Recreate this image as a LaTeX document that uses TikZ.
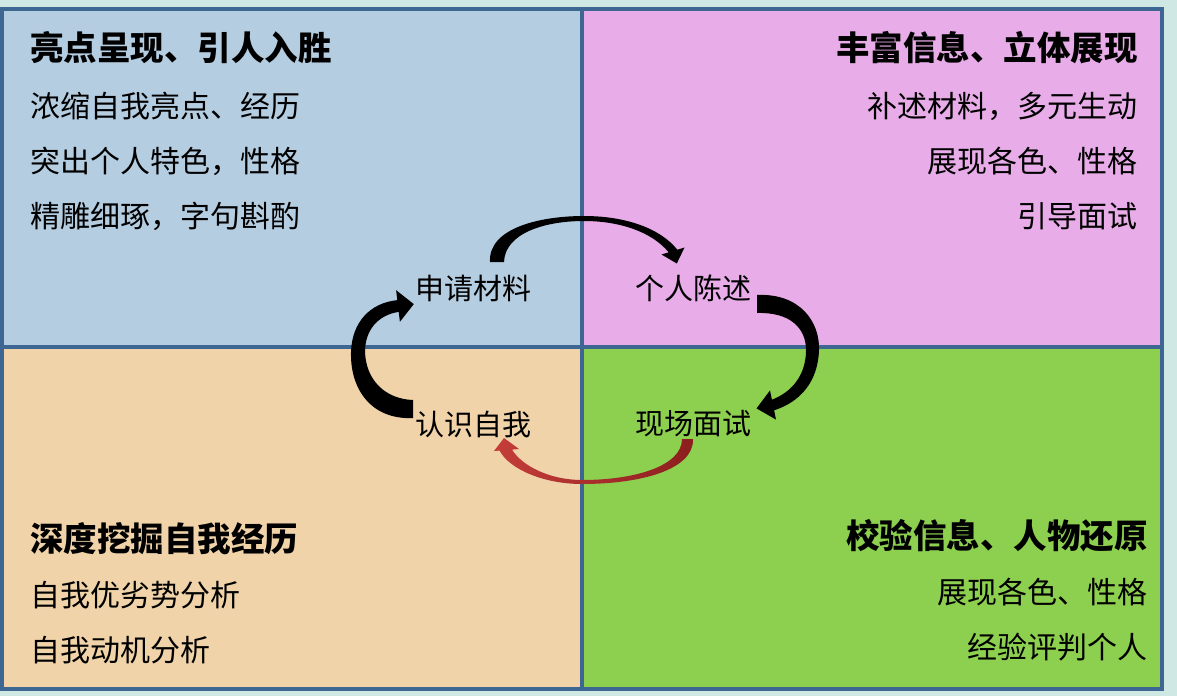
\documentclass[tikz,border=0pt]{standalone}
\usepackage{fontspec}
\setmainfont{Noto Sans CJK SC}
\usepackage{tikz}
\usetikzlibrary{calc,positioning}
\definecolor{backcol}{RGB}{208,232,228}
\definecolor{edgecol}{RGB}{62,102,147}
\definecolor{qblue}{RGB}{181,205,225}
\definecolor{qpink}{RGB}{232,172,232}
\definecolor{qtan}{RGB}{240,211,168}
\definecolor{qgreen}{RGB}{141,207,79}
\definecolor{redlight}{RGB}{196,62,58}
\definecolor{reddark}{RGB}{140,30,30}
\tikzset{
  quad/.style={draw=edgecol, line width=3.5pt},
  headtxt/.style={inner sep=0pt, font=\fontsize{33.5}{36}\selectfont\bfseries},
  itemtxt/.style={inner sep=0pt, font=\fontsize{30}{33}\selectfont},
  steptxt/.style={inner sep=0pt, font=\fontsize{29}{33}\selectfont},
}

\begin{document}
\begin{tikzpicture}[x=1pt,y=-1pt]
\fill[backcol] (0,0) rectangle (1177,696);
\useasboundingbox (0,0) rectangle (1177,696);

% quadrants
\filldraw[quad, fill=qblue] (2,9) rectangle (582,347);
\filldraw[quad, fill=qpink] (582,9) rectangle (1162,347);
\filldraw[quad, fill=qtan] (2,347) rectangle (582,689);
\filldraw[quad, fill=qgreen] (582,347) rectangle (1162,689);

% top left
\node[headtxt, anchor=west](tlhead) at (30,48){亮点呈现、引人入胜};
\node[itemtxt, anchor=west](tla) at (30,106){浓缩自我亮点、经历};
\node[itemtxt, anchor=west](tlb) at (30,161){突出个人特色，性格};
\node[itemtxt, anchor=west](tlc) at (30,216){精雕细琢，字句斟酌};

% top right
\node[headtxt, anchor=east](trhead) at (1138,48){丰富信息、立体展现};
\node[itemtxt, anchor=east](tra) at (1138,106){补述材料，多元生动};
\node[itemtxt, anchor=east](trb) at (1138,161){展现各色、性格};
\node[itemtxt, anchor=east](trc) at (1138,216){引导面试};

% bottom left
\node[headtxt, anchor=west](blhead) at (30,539){深度挖掘自我经历};
\node[itemtxt, anchor=west](bla) at (30,595){自我优劣势分析};
\node[itemtxt, anchor=west](blb) at (30,650){自我动机分析};

% bottom right
\node[headtxt, anchor=east](brhead) at (1148,536){校验信息、人物还原};
\node[itemtxt, anchor=east](bra) at (1148,592){展现各色、性格};
\node[itemtxt, anchor=east](brb) at (1148,647){经验评判个人};

% cycle
\node[steptxt](apply) at (473,288){申请材料};
\node[steptxt](stmt) at (693,288){个人陈述};
\node[steptxt](self) at (473,424){认识自我};
\node[steptxt](intv) at (693,424){现场面试};

% apply -> stmt
\fill[black] (490,262) .. controls (488,228) and (540,216) .. (584,216)
  .. controls (625,216) and (660,228) .. (677.3,249.7) -- (684.5,247.5) -- (676.8,263.5)
  -- (661.5,254.5) -- (668.7,252.3) .. controls (652,232) and (620,221) .. (584,221)
  .. controls (545,221) and (505,233) .. (504,262) -- cycle;
% stmt -> intv
\fill[black] (757,295) .. controls (800,293) and (820,322) .. (819,350)
  .. controls (818,382) and (800,402) .. (774.1,410.3) -- (776,419.6) -- (756.5,408.4)
  -- (770,390.4) -- (771.9,399.7) .. controls (792,392) and (806,375) .. (806,350)
  .. controls (806,328) and (790,312) .. (757,313) -- cycle;
% self -> apply
\fill[black] (413,418) .. controls (372,420) and (350,390) .. (351,352)
  .. controls (352,322) and (370,303) .. (397.3,300.1) -- (396.1,290.2) -- (413.8,304.1)
  -- (399.9,321.8) -- (398.7,311.9) .. controls (378,315) and (365,330) .. (365,352)
  .. controls (366,380) and (385,399) .. (413,400) -- cycle;
% intv -> self
\shade[left color=redlight, right color=reddark] (693,439) .. controls (694,470) and (640,484) .. (582,484)
  .. controls (545,484) and (510,470) .. (499.5,450.6) -- (494,451) -- (504,438)
  -- (519,449) -- (512,449.6) .. controls (522,466) and (550,480) .. (582,480)
  .. controls (635,480) and (682,466) .. (682,439) -- cycle;
\end{tikzpicture}
\end{document}
